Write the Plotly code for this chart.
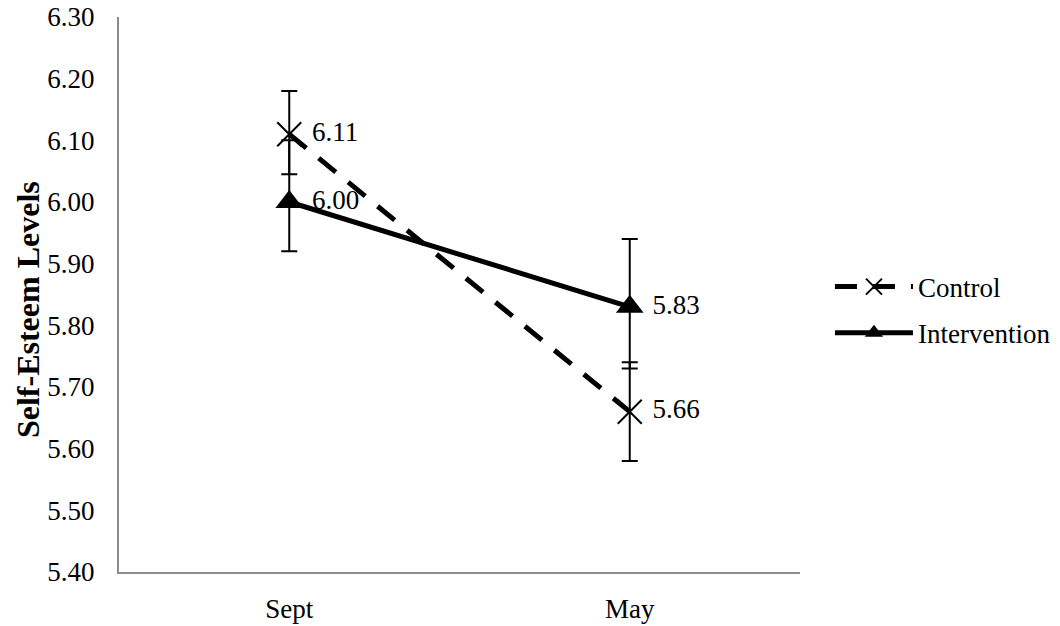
import plotly.graph_objects as go

categories = ["Sept", "May"]
control = [6.11, 5.66]
control_err_plus = [0.07, 0.08]
control_err_minus = [0.065, 0.08]
intervention = [6.00, 5.83]
intervention_err_plus = [0.10, 0.11]
intervention_err_minus = [0.08, 0.10]
y_ticks = [5.40, 5.50, 5.60, 5.70, 5.80, 5.90, 6.00, 6.10, 6.20, 6.30]
y_title = "Self-Esteem Levels"

FONT = "'Liberation Serif', 'Times New Roman', serif"
FS = 27

fig = go.Figure()

fig.add_trace(go.Scatter(
    x=categories, y=control, name="Control", legendgroup="c",
    mode="lines+markers+text",
    text=[f" {v:.2f}" for v in control],
    textposition="middle right",
    textfont=dict(family=FONT, size=FS, color="black"),
    line=dict(color="black", width=5, dash="22px,16px"),
    marker=dict(symbol="x-thin", size=24, color="black",
                line=dict(color="black", width=2)),
    error_y=dict(type="data", symmetric=False,
                 array=control_err_plus, arrayminus=control_err_minus,
                 color="black", thickness=2, width=8),
))

fig.add_trace(go.Scatter(
    x=categories, y=intervention, name="Intervention", legendgroup="i",
    mode="lines+markers+text",
    text=[f" {v:.2f}" for v in intervention],
    textposition="middle right",
    textfont=dict(family=FONT, size=FS, color="black"),
    line=dict(color="black", width=5),
    marker=dict(symbol="triangle-up", size=24, color="black"),
    error_y=dict(type="data", symmetric=False,
                 array=intervention_err_plus, arrayminus=intervention_err_minus,
                 color="black", thickness=2, width=8),
))

fig.update_layout(
    width=1060, height=626,
    paper_bgcolor="white", plot_bgcolor="white",
    margin=dict(l=119, r=260, t=17, b=54, autoexpand=False),
    font=dict(family=FONT, size=FS, color="black"),
    showlegend=True,
    legend=dict(x=1.044, y=0.472, xanchor="left", yanchor="middle",
                font=dict(family=FONT, size=FS, color="black"),
                itemwidth=78, tracegroupgap=8, bgcolor="rgba(0,0,0,0)"),
    annotations=[dict(
        text=f"<b>{y_title}</b>", xref="paper", yref="paper",
        x=-0.1336, y=0.472, xanchor="center", yanchor="middle",
        textangle=-90, showarrow=False,
        font=dict(family=FONT, size=32, color="black"),
    )],
)

fig.update_xaxes(
    type="category", range=[-0.5, 1.5], automargin=False,
    showline=True, linecolor="#8c8c8c", linewidth=2,
    showgrid=False, zeroline=False, ticks="",
    ticklabelstandoff=12,
    tickfont=dict(family=FONT, size=FS, color="black"),
)

fig.update_yaxes(
    range=[5.40, 6.30], tickvals=y_ticks, tickformat=".2f", automargin=False,
    showline=True, linecolor="#8c8c8c", linewidth=2,
    showgrid=False, zeroline=False, ticks="",
    ticklabelstandoff=17, ticklabeloverflow="allow",
    tickfont=dict(family=FONT, size=FS, color="black"),
)

fig.write_html("out.html", config={"displayModeBar": False},
               post_script="document.body.style.margin='0px';")
